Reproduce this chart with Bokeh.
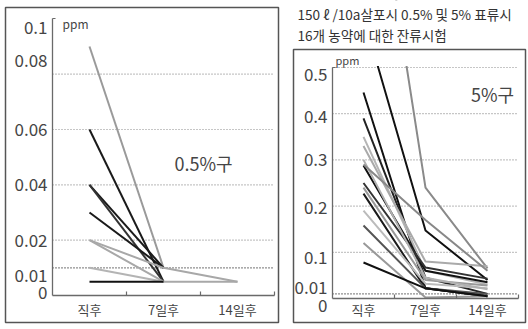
from bokeh.plotting import figure
from bokeh.models import Range1d, LinearAxis, FixedTicker, ColumnDataSource
from bokeh.layouts import row
from bokeh.core.properties import value
from bokeh.embed import file_html
from bokeh.resources import INLINE

nan = float("nan")
FONT = "Noto Sans CJK KR"

# ---------------- data ----------------
categories = ["직후", "7일후", "14일후"]
day_pos = [0, 1, 2]

# 0.5% 구 (ppm)
d0_05 = [0.09, 0.06, 0.04, 0.04, 0.03, 0.02, 0.02, 0.01, 0.005]
d7_05 = [0.01, 0.005, 0.01, 0.005, 0.01, 0.01, 0.005, 0.005, 0.005]
d14_05 = [nan, nan, nan, nan, nan, 0.005, 0.005, nan, nan]
tone_05 = ["#9a9a9a", "#1a1a1a", "#1a1a1a", "#333333", "#1a1a1a",
           "#a8a8a8", "#a8a8a8", "#b4b4b4", "#111111"]

# 5% 구 (ppm)
d0_5 = [0.61, 1.10, 0.446, 0.39, 0.35, 0.33, 0.288, 0.25, 0.24, 0.227,
        0.19, 0.158, 0.12, 0.078, 0.30, 0.29]
d7_5 = [0.147, 0.24, 0.022, 0.045, 0.06, 0.08, 0.06, 0.067, 0.04, 0.022,
        0.032, 0.022, 0.002, 0.022, 0.045, 0.17]
d14_5 = [0.04, 0.065, 0.005, 0.01, 0.03, 0.07, 0.035, 0.043, 0.028, 0.005,
         0.022, 0.01, 0.005, 0.005, 0.02, 0.06]
tone_5 = ["#111111", "#8a8a8a", "#111111", "#222222", "#b5b5b5", "#aaaaaa",
          "#111111", "#333333", "#999999", "#1a1a1a", "#bbbbbb", "#555555",
          "#999999", "#111111", "#b0b0b0", "#888888"]

# axis tick labels
ticks_05 = [0, 0.01, 0.02, 0.04, 0.06, 0.08, 0.1]
labels_05 = ["0", "0.01", "0.02", "0.04", "0.06", "0.08", "0.1"]
grid_05 = [0.01, 0.02, 0.04, 0.06, 0.08]

ticks_5 = [0, 0.01, 0.1, 0.2, 0.3, 0.4, 0.5]
labels_5 = ["0", "0.01", "0.1", "0.2", "0.3", "0.4", "0.5"]
grid_5 = [0.01, 0.1, 0.2, 0.3, 0.4, 0.5]

title_1 = "150 ℓ /10a살포시 0.5% 및 5% 표류시"
title_2 = "16개 농약에 대한 잔류시험"

# ---------------- styling / layout (pixels) ----------------
# vertical nudge of each tick label (positive = down)
nudge_05 = [-3, 8, 0, 0, 0, -14, 9]
nudge_5 = [7, -6, 5, 1, 0, 3, 7]

GRID_GRAY = "#8c8c8c"
GRID_DARK = "#222222"
AXIS_COL = "#6a6a6a"
TXT = "#454545"
BOX = "#555555"

H = 328


class Geo:
    def __init__(self, w, x0px, xscale, y0px, yscale):
        self.w, self.x0px, self.xs, self.y0px, self.ys = w, x0px, xscale, y0px, yscale

    def X(self, px):
        return -0.5 + (px - self.x0px) / self.xs

    def Y(self, py):
        return (self.y0px - py) / self.ys


GL = Geo(280, 52, 74, 295, 2767)   # left panel, local pixels
GR = Geo(247, 52, 62, 298, 462)    # right panel, local pixels (origin x=280)


def make_fig(g):
    p = figure(width=g.w, height=H, output_backend="svg", toolbar_location=None,
               x_range=Range1d(g.X(0), g.X(g.w)), y_range=Range1d(g.Y(H), g.Y(0)),
               x_axis_location=None, y_axis_location=None, min_border=0,
               outline_line_color=None,
               background_fill_color="white", border_fill_color="white")
    p.xgrid.visible = False
    p.ygrid.visible = False
    return p


def make_axes(p, ytop, standoff):
    xa = LinearAxis(fixed_location=0,
                    bounds=(-0.5, 2.5),
                    ticker=FixedTicker(ticks=day_pos, minor_ticks=[0.5, 1.5, 2.5]),
                    major_label_overrides=dict(zip(day_pos, categories)),
                    axis_line_color=AXIS_COL, axis_line_width=1.3,
                    major_tick_line_color=None,
                    minor_tick_line_color=AXIS_COL, minor_tick_line_width=1.2,
                    minor_tick_in=4, minor_tick_out=0,
                    major_label_text_font=FONT, major_label_text_font_size="13px",
                    major_label_text_color=TXT, major_label_standoff=standoff)
    p.add_layout(xa, "below")
    ya = LinearAxis(fixed_location=-0.5,
                    bounds=(0, ytop),
                    ticker=FixedTicker(ticks=[ytop], minor_ticks=[]),
                    major_label_overrides={ytop: ""},
                    axis_line_color=AXIS_COL, axis_line_width=1.3,
                    major_tick_line_color=AXIS_COL, major_tick_line_width=1.2,
                    major_tick_in=3, major_tick_out=0,
                    minor_tick_line_color=None)
    p.add_layout(ya, "left")


def grid(p, vals, x1):
    cols = [GRID_DARK if v == 0.01 else GRID_GRAY for v in vals]
    p.segment(x0=[-0.5] * len(vals), x1=[x1] * len(vals), y0=vals, y1=vals,
              line_color=cols, line_width=1.2, line_dash="1 2")


def series(p, d0, d7, d14, tones):
    xs = [day_pos for _ in d0]
    ys = [[a, b, c] for a, b, c in zip(d0, d7, d14)]
    p.multi_line(xs=xs, ys=ys, line_color=tones, line_width=2.0,
                 line_join="round")


def ylabels(p, ticks, labels, nudge, size):
    src = ColumnDataSource(dict(x=[-0.5] * len(ticks), y=ticks, t=labels, dy=nudge))
    p.text(x="x", y="y", text="t", y_offset="dy", x_offset=-5, source=src,
           text_align="right", text_baseline="middle",
           text_font=value(FONT), text_font_size=size, text_color=TXT)


def box(p, g, l, r, t, b):
    p.quad(left=g.X(l), right=g.X(r), top=g.Y(t), bottom=g.Y(b),
           fill_color=None, line_color=BOX, line_width=1.5)


# ---------------- left panel : 0.5% ----------------
p1 = make_fig(GL)
grid(p1, grid_05, GL.X(272))
series(p1, d0_05, d7_05, d14_05, tone_05)
ylabels(p1, ticks_05, labels_05, nudge_05, "17px")
p1.text(x=[-0.5], y=[0.1], text=["ppm"], x_offset=10, y_offset=5,
        text_align="left", text_baseline="middle",
        text_font=value(FONT), text_font_size="12px", text_color=TXT)
p1.text(x=[GL.X(203)], y=[GL.Y(162)], text=["0.5%구"], text_align="center",
        text_baseline="middle", text_font=value(FONT), text_font_size="18px",
        text_color=TXT)
box(p1, GL, 5, 278, 7, 322)
make_axes(p1, 0.1, -2)

# ---------------- right panel : 5% ----------------
p2 = make_fig(GR)
grid(p2, grid_5, 2.5)
series(p2, d0_5, d7_5, d14_5, tone_5)
# mask the part of the lines above the 0.5 line
p2.quad(left=GR.X(54), right=GR.X(GR.w), bottom=0.503, top=GR.Y(0),
        fill_color="white", line_color=None)
ylabels(p2, ticks_5, labels_5, nudge_5, "17px")
p2.text(x=[-0.5], y=[0.5], text=["ppm"], x_offset=3, y_offset=-8,
        text_align="left", text_baseline="middle",
        text_font=value(FONT), text_font_size="11px", text_color=TXT)
p2.text(x=[GR.X(212)], y=[GR.Y(93)], text=["5%구"], text_align="center",
        text_baseline="middle", text_font=value(FONT), text_font_size="18px",
        text_color=TXT)
p2.text(x=[GR.X(17), GR.X(17)], y=[GR.Y(13), GR.Y(34)], text=[title_1, title_2],
        text_align="left", text_baseline="middle",
        text_font=value(FONT), text_font_size="13.6px", text_color="#333333")
box(p2, GR, 13, 245, 49, 322)
make_axes(p2, 0.5, -5)

layout = row(p1, p2)
open("out.html", "w").write(file_html(layout, INLINE))
